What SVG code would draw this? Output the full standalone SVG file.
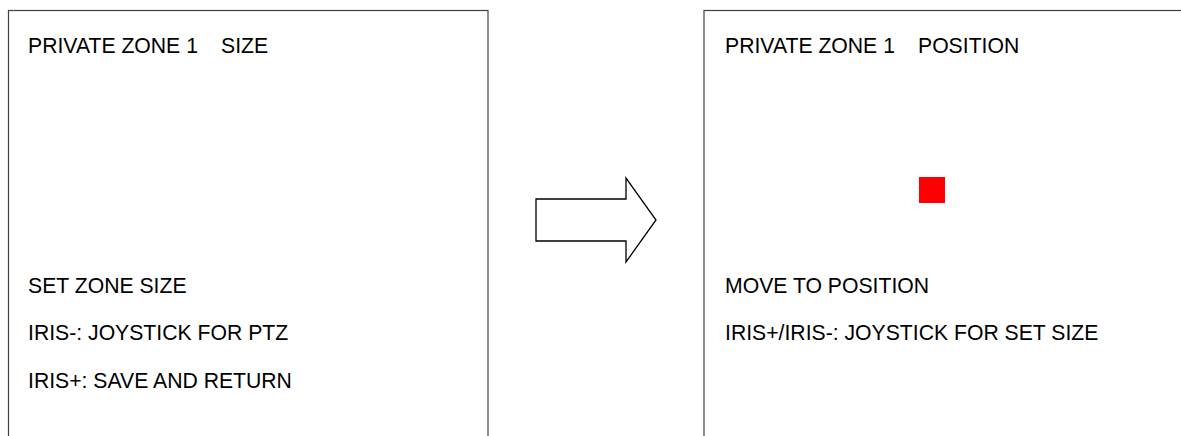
<svg xmlns="http://www.w3.org/2000/svg" width="1181" height="436" viewBox="0 0 1181 436">
<style>
.box{fill:#fff;stroke:#404040;stroke-width:1.2}
.t{font-family:"Liberation Sans",Arial,sans-serif;font-size:21.2px;fill:#000}
.arrow{fill:#fff;stroke:#000;stroke-width:1.3;stroke-linejoin:miter}
</style>
<rect width="1181" height="436" fill="#fff"/>
<g id="screen-size">
<rect class="box" x="8.5" y="10.5" width="479.5" height="440"/>
<text class="t" x="28" y="53">PRIVATE ZONE 1</text>
<text class="t" x="221" y="53">SIZE</text>
<text class="t" x="28" y="293">SET ZONE SIZE</text>
<text class="t" x="28" y="340">IRIS-: JOYSTICK FOR PTZ</text>
<text class="t" x="28" y="388">IRIS+: SAVE AND RETURN</text>
</g>
<g id="connectors">
<polygon class="arrow" points="536,199 626,199 626,178 656,220 626,262 626,241 536,241"/>
</g>
<g id="screen-position">
<rect class="box" x="704" y="10.5" width="500" height="440"/>
<text class="t" x="725" y="53">PRIVATE ZONE 1</text>
<text class="t" x="918" y="53">POSITION</text>
<rect x="919" y="177" width="26" height="26" fill="#ff0000"/>
<text class="t" x="725" y="293">MOVE TO POSITION</text>
<text class="t" x="725" y="340">IRIS+/IRIS-: JOYSTICK FOR SET SIZE</text>
</g>
</svg>
